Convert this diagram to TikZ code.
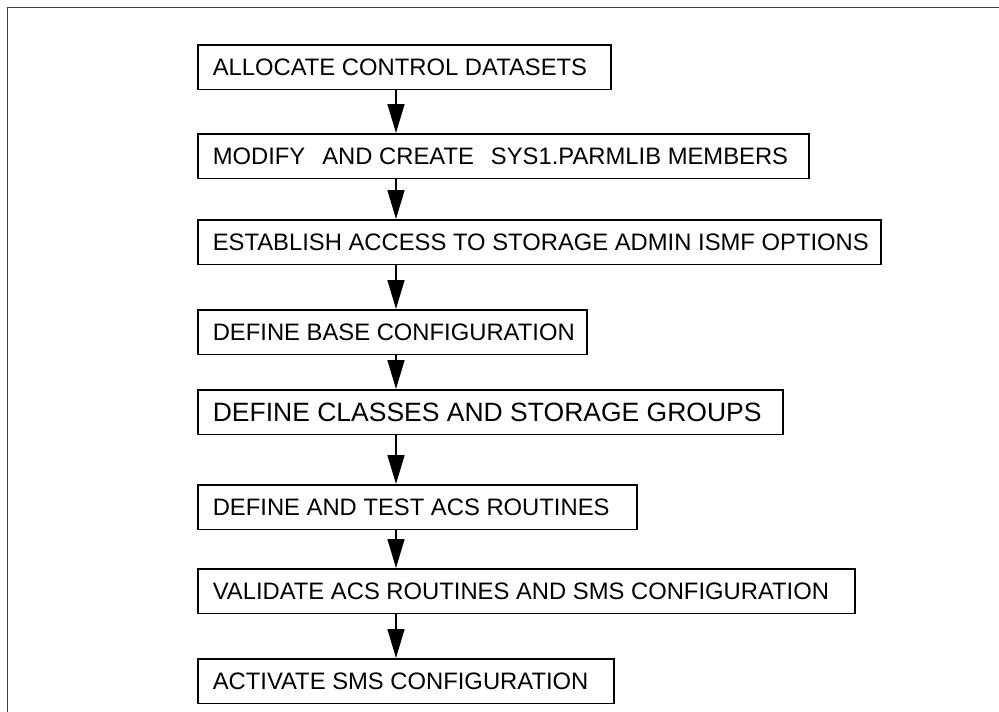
\documentclass[tikz,border=0pt]{standalone}
\usepackage{fontspec}
\setmainfont{Liberation Sans}
\usetikzlibrary{arrows.meta}

\newcommand{\stepfont}{\fontsize{23.8}{28}\selectfont}
\newcommand{\bigstepfont}{\fontsize{26.5}{31}\selectfont}
\tikzstyle{stepbox}=[draw,line width=1.6pt,rectangle,anchor=north west,minimum height=44.5pt,inner xsep=15pt,inner ysep=0pt,font=\stepfont]
\tikzstyle{flow} = [draw,line width=1.5pt,-{Triangle[length=29pt,width=17pt]}]
\tikzstyle{frame} = [draw,black!75,line width=1pt]

\begin{document}
\begin{tikzpicture}[x=1pt, y=-1pt]
    \useasboundingbox (0,0) rectangle (999,712);
    % First we draw the open frame
    \path[frame] (7,712) -- (7,7) -- (999,7);
    % Then the steps, all with the same left edge
    \foreach \name/\y/\w/\txt in {alloc/44/413/{ALLOCATE CONTROL DATASETS},
            modify/133/611/{MODIFY\hspace{17pt}AND CREATE\hspace{17pt}SYS1.PARMLIB MEMBERS},
            access/219/683/{ESTABLISH ACCESS TO STORAGE ADMIN ISMF OPTIONS},
            base/309/389/{DEFINE BASE CONFIGURATION},
            classes/389/585/{\bigstepfont DEFINE CLASSES AND STORAGE GROUPS},
            acs/484/439/{DEFINE AND TEST ACS ROUTINES},
            valid/568/657/{VALIDATE ACS ROUTINES AND SMS CONFIGURATION},
            activate/658/416/{ACTIVATE SMS CONFIGURATION}} {
        \pgfmathsetmacro{\tw}{\w-30}
        \node[stepbox] (\name) at (197,\y) {\makebox[\tw pt][l]{\txt}};
    }
    % Connect the steps with arrows
    \foreach \source/ \dest in {alloc/modify, modify/access, access/base, base/classes,
            classes/acs, acs/valid, valid/activate}
        \path[flow] ([xshift=199pt]\source.south west) -- ([xshift=199pt]\dest.north west);
\end{tikzpicture}
\end{document}
